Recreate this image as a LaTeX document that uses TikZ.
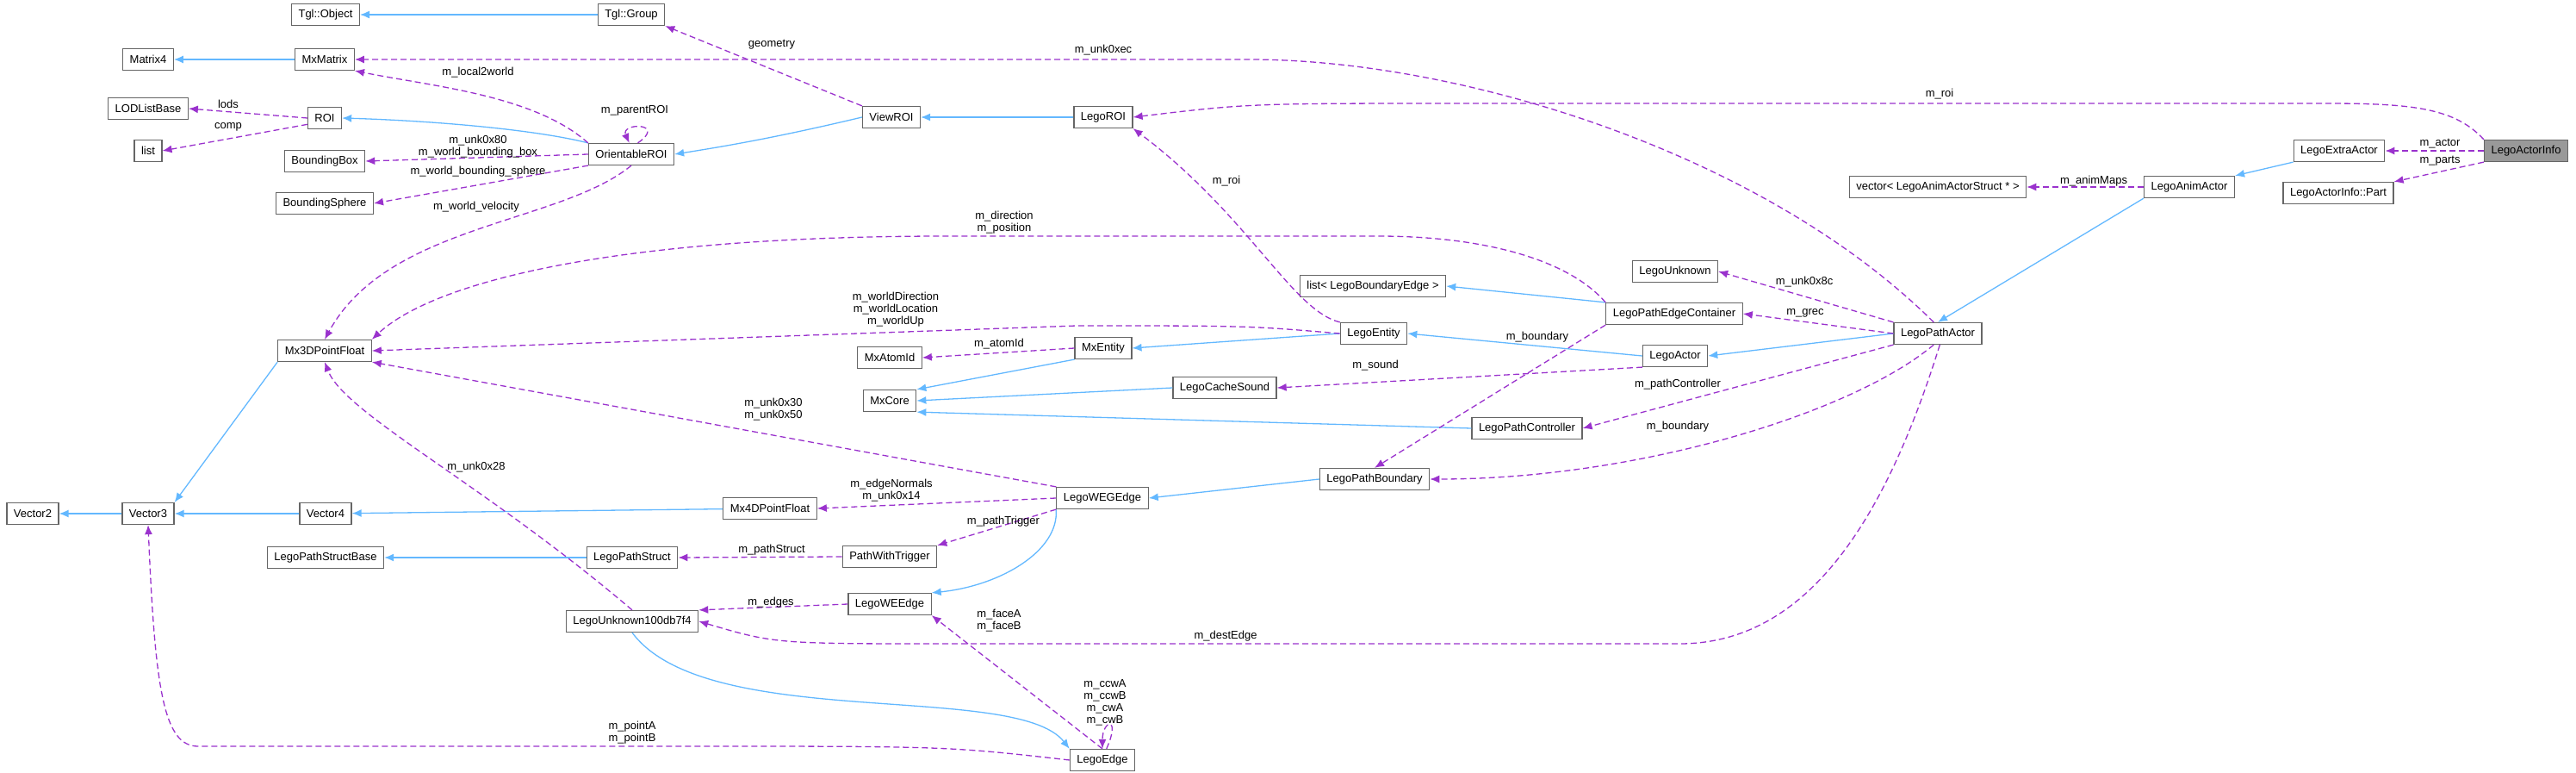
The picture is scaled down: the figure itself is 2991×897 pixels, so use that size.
\documentclass[tikz,border=0pt]{standalone}
\usepackage{fontspec}
\setmainfont{Liberation Sans}
\usetikzlibrary{arrows.meta,positioning}
\definecolor{inhblue}{HTML}{63B8FF}
\definecolor{usepurple}{HTML}{9A32CD}
\tikzset{
  cls/.style={draw=black!60, line width=1.2pt, fill=white, minimum height=25pt,
              inner xsep=8pt, inner ysep=2pt, font=\fontsize{13}{14}\selectfont},
  curcls/.style={cls, fill=black!40},
  inh/.style={draw=inhblue, line width=1.3pt, -{Latex[length=11pt,width=9pt]}},
  usage/.style={draw=usepurple, line width=1.3pt, dashed, dash pattern=on 7pt off 4pt,
                -{Latex[length=11pt,width=9pt]}},
  lbl/.style={font=\fontsize{13}{14}\selectfont, align=center, inner sep=1pt}
}
\begin{document}
\begin{tikzpicture}[x=1pt,y=-1pt]
  \useasboundingbox (0,0) rectangle (2991,897);

  % classes, left part
  \node[cls] (tglobj) at (378,17) {Tgl::Object};
  \node[cls] (tglgrp) at (733,17) {Tgl::Group};
  \node[cls] (mat4) at (172,69) {Matrix4};
  \node[cls] (mxmat) at (377,69) {MxMatrix};
  \node[cls] (lodlist) at (172,126) {LODListBase};
  \node[cls] (roi) at (377,137) {ROI};
  \node[cls] (list) at (172,175) {list};
  \node[cls] (bbox) at (377,187) {BoundingBox};
  \node[cls] (bsphere) at (377,236) {BoundingSphere};
  \node[cls] (orroi) at (733,179) {OrientableROI};
  \node[cls] (viewroi) at (1035,136) {ViewROI};
  \node[cls] (legoroi) at (1281,136) {LegoROI};
  \node[cls] (p3d) at (377,407) {Mx3DPointFloat};
  \node[cls] (vec2) at (38,596) {Vector2};
  \node[cls] (vec3) at (172,596) {Vector3};
  \node[cls] (vec4) at (378,596) {Vector4};
  \node[cls] (p4d) at (894,590) {Mx4DPointFloat};
  \node[cls] (wegedge) at (1280,578) {LegoWEGEdge};
  \node[cls] (pathtrig) at (1033,646) {PathWithTrigger};
  \node[cls] (pathstruct) at (734,647) {LegoPathStruct};
  \node[cls] (pathsbase) at (378,647) {LegoPathStructBase};
  \node[cls] (weedge) at (1033,701) {LegoWEEdge};
  \node[cls] (unk100) at (734,721) {LegoUnknown100db7f4};
  \node[cls] (edge) at (1280,882) {LegoEdge};

  % classes, middle part
  \node[cls] (atomid) at (1033,415) {MxAtomId};
  \node[cls] (mxcore) at (1033,465) {MxCore};
  \node[cls] (mxentity) at (1281,404) {MxEntity};
  \node[cls] (entity) at (1595,387) {LegoEntity};
  \node[cls] (cachesnd) at (1422,450) {LegoCacheSound};
  \node[cls] (pathctrl) at (1773,497) {LegoPathController};
  \node[cls] (boundary) at (1596,556) {LegoPathBoundary};
  \node[cls] (bndlist) at (1594,332) {list< LegoBoundaryEdge >};
  \node[cls] (edgecont) at (1944,364) {LegoPathEdgeContainer};
  \node[cls] (unknown) at (1945,315) {LegoUnknown};
  \node[cls] (actor) at (1945,413) {LegoActor};

  % classes, right part
  \node[cls] (pathactor) at (2250,387) {LegoPathActor};
  \node[cls] (animvec) at (2250,217) {vector< LegoAnimActorStruct * >};
  \node[cls] (animactor) at (2542,217) {LegoAnimActor};
  \node[cls] (extraactor) at (2716,175) {LegoExtraActor};
  \node[cls] (part) at (2715,224) {LegoActorInfo::Part};
  \node[curcls] (actorinfo) at (2933,175) {LegoActorInfo};

  % inheritance
  \draw[inh] (tglgrp) -- (tglobj);
  \draw[inh] (mxmat) -- (mat4);
  \draw[inh] (orroi.north west) .. controls (620,150) and (500,140) .. (roi.east);
  \draw[inh] (viewroi.west) .. controls (900,160) and (840,170) .. (orroi.east);
  \draw[inh] (legoroi) -- (viewroi);
  \draw[inh] (p3d.south west) -- (vec3.north east);
  \draw[inh] (vec3) -- (vec2);
  \draw[inh] (vec4) -- (vec3);
  \draw[inh] (p4d) -- (vec4);
  \draw[inh] (pathstruct) -- (pathsbase);
  \draw[inh] (wegedge.south west) .. controls (1230,640) and (1160,680) .. (weedge.north east);
  \draw[inh] (boundary.west) -- (wegedge.east);
  \draw[inh] (unk100.south) .. controls (820,850) and (1180,790) .. (edge.north west);
  \draw[inh] (mxentity.south west) -- (mxcore.north east);
  \draw[inh] (cachesnd.west) -- (mxcore.east);
  \draw[inh] (pathctrl.west) -- (mxcore.south east);
  \draw[inh] (entity.west) -- (mxentity.east);
  \draw[inh] (actor.west) -- (entity.east);
  \draw[inh] (edgecont.north west) -- (bndlist.east);
  \draw[inh] (pathactor.west) -- (actor.east);
  \draw[inh] (animactor.south west) -- (pathactor.north);
  \draw[inh] (extraactor.south west) -- (animactor.north east);

  % members
  \draw[usage] (viewroi.north west) -- (tglgrp.south east);
  \draw[usage] (pathactor.110) .. controls (2050,180) and (1700,69) .. (1450,69) -- (mxmat.east);
  \draw[usage] (actorinfo.north west) .. controls (2850,125) and (2800,120) .. (2700,120)
    -- (1700,120) .. controls (1450,120) .. (legoroi.east);
  \draw[usage] (orroi.north west) .. controls (620,110) and (500,100) .. (mxmat.south east);
  \draw[usage] (orroi.60) .. controls (775,142) and (720,142) .. (orroi.100);
  \draw[usage] (roi.west) -- (lodlist.east);
  \draw[usage] (roi.200) -- (list.east);
  \draw[usage] (orroi.west) -- (bbox.east);
  \draw[usage] (orroi.south west) -- (bsphere.east);
  \draw[usage] (orroi.south) .. controls (650,260) and (450,260) .. (p3d.north);
  \draw[usage] (entity.north west) .. controls (1500,360) and (1450,250) .. (legoroi.south east);
  \draw[usage] (edgecont.north west) .. controls (1820,300) and (1720,274) .. (1600,274)
    -- (1100,274) .. controls (700,274) and (500,330) .. (p3d.north east);
  \draw[usage] (entity.west) .. controls (1450,378) .. (1250,378) -- (p3d.east);
  \draw[usage] (mxentity.west) -- (atomid.east);
  \draw[usage] (actor.south west) -- (cachesnd.east);
  \draw[usage] (edgecont.south west) -- (boundary.north);
  \draw[usage] (pathactor.north west) -- (unknown.east);
  \draw[usage] (pathactor.west) -- (edgecont.east);
  \draw[usage] (pathactor.south west) -- (pathctrl.east);
  \draw[usage] (pathactor.250) .. controls (2150,480) and (1900,556) .. (boundary.east);
  \draw[usage] (pathactor.280) .. controls (2190,600) and (2100,747) .. (1950,747)
    -- (1100,747) .. controls (900,747) .. (unk100.east);
  \draw[usage] (animactor) -- (animvec);
  \draw[usage] (actorinfo.west) -- (extraactor.east);
  \draw[usage] (actorinfo.south west) -- (part.north east);
  \draw[usage] (wegedge.north west) -- (p3d.south east);
  \draw[usage] (wegedge.west) -- (p4d.east);
  \draw[usage] (wegedge.south west) -- (pathtrig.north east);
  \draw[usage] (unk100.north) .. controls (560,560) and (400,480) .. (p3d.south);
  \draw[usage] (pathtrig.west) -- (pathstruct.east);
  \draw[usage] (weedge.west) -- (unk100.north east);
  \draw[usage] (edge.north) -- (weedge.south east);
  \draw[usage] (edge.70) .. controls (1302,830) and (1280,835) .. (edge.north);
  \draw[usage] (edge.west) .. controls (1100,866) .. (800,866) -- (230,866)
    .. controls (190,866) and (180,800) .. (vec3.south);

  % member labels
  \node[lbl] (l_geom) at (896,52) {geometry};
  \node[lbl] (l_unkec) at (1281,58) {m\_unk0xec};
  \node[lbl] (l_roitop) at (2252,109) {m\_roi};
  \node[lbl] (l_l2w) at (555,84) {m\_local2world};
  \node[lbl] (l_parent) at (737,128) {m\_parentROI};
  \node[lbl] (l_lods) at (265,121) {lods};
  \node[lbl] (l_comp) at (265,147) {comp};
  \node[lbl] (l_bbox) at (555,170) {m\_unk0x80\\m\_world\_bounding\_box};
  \node[lbl] (l_bsph) at (555,199) {m\_world\_bounding\_sphere};
  \node[lbl] (l_vel) at (553,240) {m\_world\_velocity};
  \node[lbl] (l_roi) at (1424,210) {m\_roi};
  \node[lbl] (l_dir) at (1166,258) {m\_direction\\m\_position};
  \node[lbl] (l_world) at (1040,359) {m\_worldDirection\\m\_worldLocation\\m\_worldUp};
  \node[lbl] (l_atom) at (1160,399) {m\_atomId};
  \node[lbl] (l_sound) at (1597,424) {m\_sound};
  \node[lbl] (l_bnd1) at (1785,391) {m\_boundary};
  \node[lbl] (l_unk8c) at (2095,327) {m\_unk0x8c};
  \node[lbl] (l_grec) at (2096,363) {m\_grec};
  \node[lbl] (l_pctrl) at (1948,446) {m\_pathController};
  \node[lbl] (l_bnd2) at (1948,495) {m\_boundary};
  \node[lbl] (l_anim) at (2431,210) {m\_animMaps};
  \node[lbl] (l_actor) at (2833,167) {m\_actor};
  \node[lbl] (l_parts) at (2833,187) {m\_parts};
  \node[lbl] (l_unk30) at (898,475) {m\_unk0x30\\m\_unk0x50};
  \node[lbl] (l_unk28) at (553,542) {m\_unk0x28};
  \node[lbl] (l_enorm) at (1035,569) {m\_edgeNormals\\m\_unk0x14};
  \node[lbl] (l_ptrig) at (1165,605) {m\_pathTrigger};
  \node[lbl] (l_pstruct) at (896,638) {m\_pathStruct};
  \node[lbl] (l_edges) at (895,699) {m\_edges};
  \node[lbl] (l_face) at (1160,720) {m\_faceA\\m\_faceB};
  \node[lbl] (l_dest) at (1423,738) {m\_destEdge};
  \node[lbl] (l_ccw) at (1283,815) {m\_ccwA\\m\_ccwB\\m\_cwA\\m\_cwB};
  \node[lbl] (l_point) at (734,850) {m\_pointA\\m\_pointB};
\end{tikzpicture}
\end{document}
